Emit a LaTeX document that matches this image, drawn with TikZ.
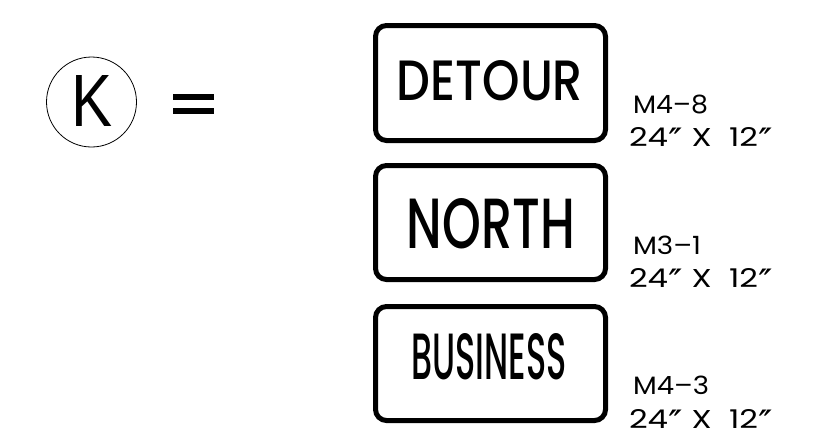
\documentclass[tikz,border=0pt]{standalone}
\usepackage{fontspec}
\setmainfont{Poppins}[UprightFont=*-Medium]
\newfontfamily\lblfont{Poppins}
\newfontfamily\kfont{Liberation Sans}
\newfontfamily\primefont{DejaVu Sans}
\newcommand{\myprime}{\raisebox{-0.24em}[0pt][0pt]{\primefont\scalebox{1.3}{\char"2032\kern-0.1em\char"2032}}}
\begin{document}
\begin{tikzpicture}[x=1pt,y=-1pt,
  every node/.style={inner sep=0pt,outer sep=0pt},
  signbox/.style={draw, line width=5pt, rounded corners=11pt, minimum width=230pt},
  lbl/.style={anchor=base west, font=\lblfont}]
\useasboundingbox (0,0) rectangle (816,445);
% K circle
\node[circle, draw, line width=0.8pt, minimum size=90pt] (circ) at (91.5,102) {};
\node[anchor=base] (k) at (92.5,126) {\resizebox{41pt}{51pt}{\kfont K}};
% equals sign
\fill (173,94) rectangle (214,100);
\fill (173,108) rectangle (214,114);
% signs
\node[signbox, minimum height=115pt] (detour) at (490.5,83) {};
\node[signbox, minimum height=114pt] (north) at (490.5,222.5) {};
\node[signbox, minimum height=114pt] (business) at (490.5,363.5) {};
\node[anchor=base] (t1) at (490,100) {\resizebox{186pt}{40pt}{DETOUR}};
\node[anchor=base] (t2) at (491,248) {\resizebox{168pt}{50pt}{NORTH}};
\node[anchor=base] (t3) at (489,379) {\resizebox{155pt}{46pt}{BUSINESS}};
% labels
\node[lbl] (l1a) at (633,113) {\resizebox{75pt}{18.5pt}{M4–8}};
\node[lbl] (l1b) at (629,146) {\resizebox{144pt}{19pt}{24\myprime{} X \ 12\myprime}};
\node[lbl] (l2a) at (633,254) {\resizebox{68pt}{18.5pt}{M3–1}};
\node[lbl] (l2b) at (629,287) {\resizebox{144pt}{19pt}{24\myprime{} X \ 12\myprime}};
\node[lbl] (l3a) at (633,394) {\resizebox{76pt}{18.5pt}{M4–3}};
\node[lbl] (l3b) at (629,428) {\resizebox{144pt}{19pt}{24\myprime{} X \ 12\myprime}};
\end{tikzpicture}
\end{document}
